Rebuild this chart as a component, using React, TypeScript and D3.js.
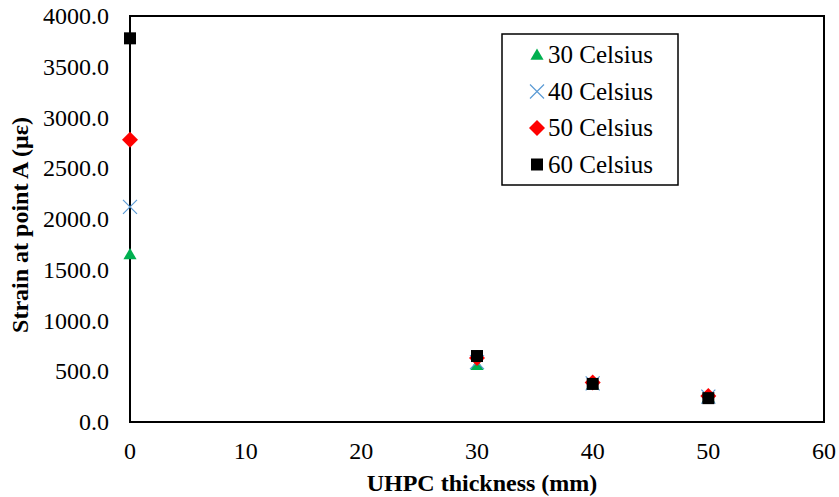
import * as d3 from "d3";

const thickness = [0, 30, 40, 50];
const c30 = [1650, 560, 370, 240];
const c40 = [2120, 590, 380, 250];
const c50 = [2780, 630, 390, 255];
const c60 = [3780, 650, 375, 235];
const seriesNames = ["30 Celsius", "40 Celsius", "50 Celsius", "60 Celsius"];
const xTicks = [0, 10, 20, 30, 40, 50, 60];
const yTicks = [0, 500, 1000, 1500, 2000, 2500, 3000, 3500, 4000];

const FONT = "Liberation Serif";

const styles = [
  { shape: "triangle", color: "#00B050" },
  { shape: "cross", color: "#5B9BD5" },
  { shape: "diamond", color: "#FF0000" },
  { shape: "square", color: "#000000" },
];

function Marker({ shape, color, x, y }) {
  if (shape === "triangle") {
    const p = d3.symbol(d3.symbolTriangle, 75)();
    return <path d={p} transform={`translate(${x},${y + 1})`} fill={color} />;
  }
  if (shape === "diamond") {
    return <path d="M0,-8L8,0L0,8L-8,0Z" transform={`translate(${x},${y})`} fill={color} />;
  }
  if (shape === "square") {
    return <rect x={x - 6} y={y - 6} width={12} height={12} fill={color} />;
  }
  return (
    <path d="M-7,-7L7,7M-7,7L7,-7" transform={`translate(${x},${y})`} stroke={color} strokeWidth={1.2} fill="none" />
  );
}

const App = () => {
  const margin = { top: 16, left: 130 };
  const width = 824 - margin.left;
  const height = 422 - margin.top;
  const all = [c30, c40, c50, c60];

  const scaleX = d3.scaleLinear().domain([0, 60]).range([0, width]);
  const scaleY = d3.scaleLinear().domain([0, 4000]).range([height, 0]);
  const fmtY = d3.format(".1f");

  return (
    <svg width={839} height={497} fontFamily={FONT} style={{ position: "absolute", left: 0, top: 0, background: "#fff" }}>
      <g transform={`translate(${margin.left}, ${margin.top})`}>
        {xTicks.map((t) => (
          <text key={`x-${t}`} x={scaleX(t)} y={height + 37} textAnchor="middle" fontSize={24} fontFamily={FONT} fill="#000">
            {t}
          </text>
        ))}
        {yTicks.map((t) => (
          <text key={`y-${t}`} x={-21} y={scaleY(t) + 8} textAnchor="end" fontSize={24} fontFamily={FONT} fill="#000">
            {fmtY(t)}
          </text>
        ))}
        <rect x={0} y={0} width={width} height={height} fill="none" stroke="#000" strokeWidth={2} />
        {all.map((vals, si) =>
          vals.map((v, i) => (
            <Marker key={`m-${si}-${i}`} shape={styles[si].shape} color={styles[si].color} x={scaleX(thickness[i])} y={scaleY(v)} />
          ))
        )}
        <g transform="translate(372, 18)">
          <rect x={0} y={0} width={176} height={151} fill="#fff" stroke="#000" strokeWidth={1.5} />
          {seriesNames.map((name, i) => (
            <g key={name} transform={`translate(0, ${21 + i * 36.5})`}>
              <Marker shape={styles[i].shape} color={styles[i].color} x={35} y={0} />
              <text x={46} y={8} fontSize={25} fontFamily={FONT} fill="#000">{name}</text>
            </g>
          ))}
        </g>
      </g>
      <text x={482} y={491} textAnchor="middle" fontWeight="bold" fontSize={24} fontFamily={FONT}>UHPC thickness (mm)</text>
      <text transform="translate(28, 225) rotate(-90)" textAnchor="middle" fontWeight="bold" fontSize={24} fontFamily={FONT}>Strain at point A (με)</text>
    </svg>
  );
};

export default App;
